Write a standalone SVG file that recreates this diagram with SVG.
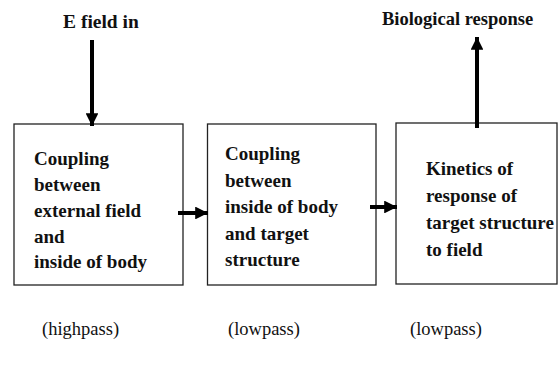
<svg xmlns="http://www.w3.org/2000/svg" width="558" height="372" viewBox="0 0 558 372">
<style>
.box{fill:#fff;stroke:#222;stroke-width:1.3}
.c{stroke:#000;stroke-width:4;fill:none}
</style>
<defs>
<marker id="ah" viewBox="0 0 10 10" refX="10" refY="5" markerWidth="3.2" markerHeight="3.2" orient="auto" markerUnits="strokeWidth">
<path d="M0,0 L10,5 L0,10 Z" fill="#000"/>
</marker>
</defs>
<rect width="558" height="372" fill="#fff"/>
<g font-family="Liberation Serif, serif" font-weight="bold" font-size="19" fill="#111">
<g id="node-input">
<text x="63" y="28" font-size="19.5">E field in</text>
</g>
<g id="node-output">
<text x="382" y="25" font-size="18.5">Biological response</text>
</g>
<g id="node-box1">
<rect class="box" x="14" y="124" width="169" height="161"/>
<text x="34" y="165">Coupling</text>
<text x="34" y="191">between</text>
<text x="34" y="217">external field</text>
<text x="34" y="243">and</text>
<text x="34" y="268">inside of body</text>
</g>
<g id="node-box2">
<rect class="box" x="207.5" y="124" width="168.5" height="161"/>
<text x="225" y="160">Coupling</text>
<text x="225" y="186.5">between</text>
<text x="225" y="213">inside of body</text>
<text x="225" y="239.5">and target</text>
<text x="225" y="266">structure</text>
</g>
<g id="node-box3">
<rect class="box" x="396" y="123" width="161" height="161"/>
<text x="426" y="175">Kinetics of</text>
<text x="426" y="202">response of</text>
<text x="426" y="229">target structure</text>
<text x="426" y="256">to field</text>
</g>
<g id="node-labels" font-weight="normal" font-size="18.5">
<text x="42" y="335">(highpass)</text>
<text x="228" y="335">(lowpass)</text>
<text x="410" y="335">(lowpass)</text>
</g>
</g>
<g id="connectors">
<line class="c" x1="92" y1="40" x2="92" y2="126" marker-end="url(#ah)"/>
<line class="c" x1="178" y1="213" x2="208" y2="213" marker-end="url(#ah)"/>
<line class="c" x1="370" y1="207" x2="397" y2="207" marker-end="url(#ah)"/>
<line class="c" x1="477" y1="128" x2="477" y2="37" marker-end="url(#ah)"/>
</g>
</svg>
